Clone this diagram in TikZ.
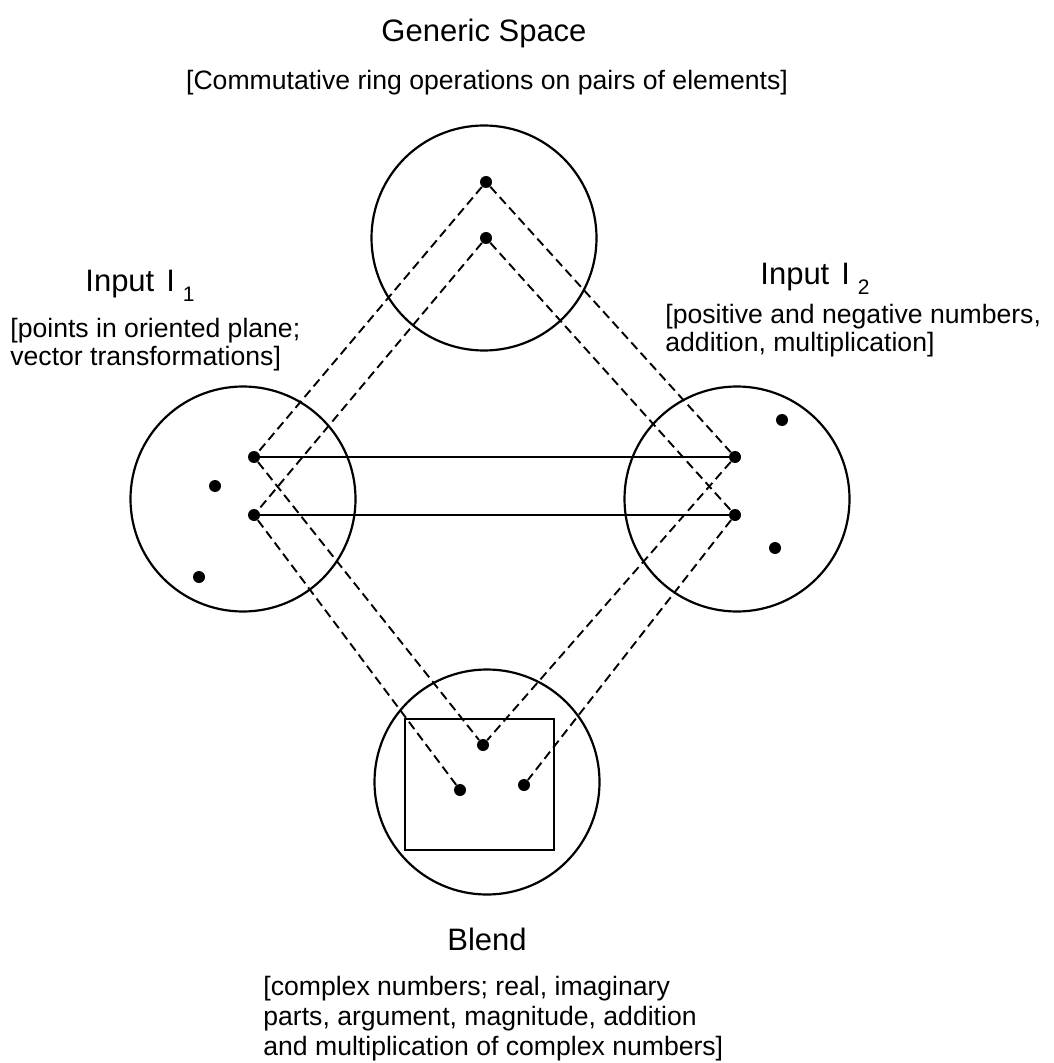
\documentclass[tikz,border=0pt]{standalone}
\usepackage{fontspec}
\setmainfont{Liberation Sans}
\usetikzlibrary{calc}

\tikzset{
	space/.style={draw, circle, line width=1.1pt, minimum size=112.5pt, inner sep=0pt},
	elem/.style={circle, fill=black, inner sep=0pt, minimum size=6pt},
	proj/.style={dash pattern=on 4.5pt off 2.5pt, line width=0.95pt},
	link/.style={line width=1pt},
	title/.style={font=\fontsize{15.5}{18}\selectfont, inner sep=0pt},
	note/.style={font=\fontsize{13.3}{14}\selectfont, inner sep=0pt, align=left}
}
\newcommand{\lowsub}[1]{\hspace{4pt}\raisebox{-5pt}{\fontsize{10.5}{12}\selectfont #1}}

\begin{document}
\begin{tikzpicture}[x=0.5pt, y=-0.5pt]
			%%%%% START %%%%%
			\useasboundingbox (0, 0) rectangle (1053, 1063);
			
			% the four spaces
			\node[space] (gen) at (484, 238) {};
			\node[space] (inA) at (243, 499) {};
			\node[space] (inB) at (737, 499) {};
			\node[space] (blend) at (487, 782) {};
			\draw[link] (405, 719) rectangle (554, 850);
			
			% elements
			\node[elem] (g1) at (486, 182) {};
			\node[elem] (g2) at (486, 238) {};
			
			\node[elem] (a1) at (254, 457) {};
			\node[elem] (a2) at (254, 515) {};
			\node[elem] (a3) at (215, 486) {};
			\node[elem] (a4) at (199, 577) {};
			
			\node[elem] (b1) at (735, 457) {};
			\node[elem] (b2) at (735, 515) {};
			\node[elem] (b3) at (782, 420) {};
			\node[elem] (b4) at (775, 548) {};
			
			\node[elem] (c1) at (483, 745) {};
			\node[elem] (c2) at (460, 790) {};
			\node[elem] (c3) at (524, 785) {};
			
			% cross-space mapping
			\draw[link] (a1) -- (b1);
			\draw[link] (a2) -- (b2);
			
			% projections
			\draw[proj] (g1) -- (a1);
			\draw[proj] (g1) -- (b1);
			\draw[proj] (g2) -- (a2);
			\draw[proj] (g2) -- (b2);
			\draw[proj] (a1) -- (c1);
			\draw[proj] (a2) -- (c2);
			\draw[proj] (b1) -- (c1);
			\draw[proj] (b2) -- (c3);
			
			% labels
			\node[title, anchor=base] (genname) at (484, 42) {Generic Space};
			\node[note, anchor=base] (gentext) at (487, 90) {[Commutative ring operations on pairs of elements]};
			
			\node[title, anchor=base west] (inAname) at (85, 292) {Input\hspace{6pt}I\lowsub{1}};
			\node[note, anchor=north west] (inAtext) at (10, 318) {[points in oriented plane;\\vector transformations]};
			
			\node[title, anchor=base west] (inBname) at (760, 285) {Input\hspace{6pt}I\lowsub{2}};
			\node[note, anchor=north west] (inBtext) at (665, 304) {[positive and negative numbers,\\addition, multiplication]};
			
			\node[title, anchor=base] (blendname) at (487, 950) {Blend};
			\node[note, anchor=north west, font=\fontsize{13.3}{15}\selectfont] (blendtext) at (263, 976) {[complex numbers; real, imaginary\\parts, argument, magnitude, addition\\and multiplication of complex numbers]};
			
			%%%%% END %%%%%
\end{tikzpicture}
\end{document}
